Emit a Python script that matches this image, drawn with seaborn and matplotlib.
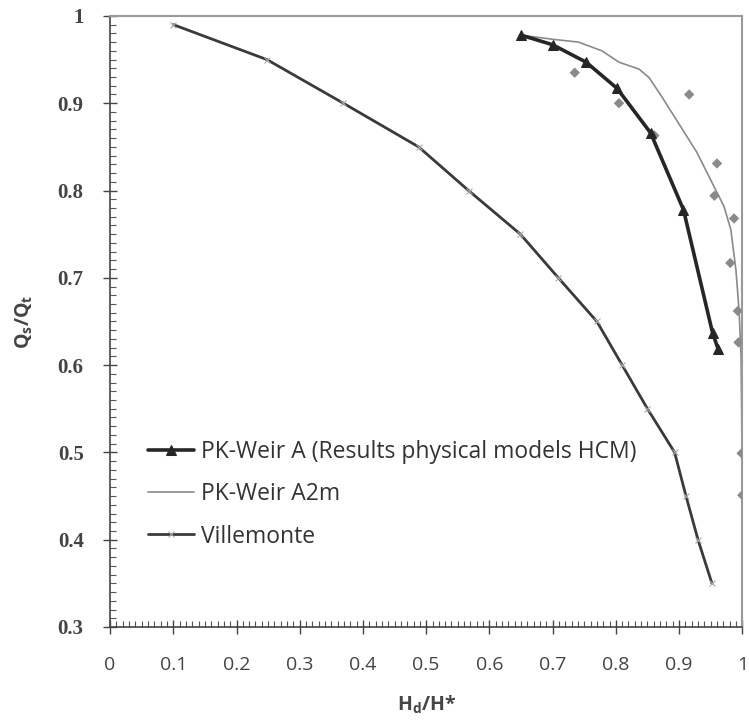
import numpy as np
import matplotlib
matplotlib.use('Agg')
import matplotlib.pyplot as plt
import seaborn as sns
from matplotlib.ticker import MultipleLocator

sns.set_style('white')
plt.rcParams['font.family'] = ['Open Sans', 'DejaVu Sans']
plt.rcParams['mathtext.default'] = 'regular'

# PK-Weir A (physical model results)
pk_a_x = [0.65, 0.70, 0.753, 0.802, 0.855, 0.907, 0.953, 0.962]
pk_a_y = [0.978, 0.967, 0.947, 0.917, 0.866, 0.778, 0.637, 0.618]

# PK-Weir A2m (thin curve)
a2m_x = [0.65, 0.703, 0.741, 0.778, 0.805, 0.837, 0.853, 0.874, 0.901, 0.928,
         0.955, 0.971, 0.982, 0.990, 0.995, 0.998, 0.999, 1.0]
a2m_y = [0.978, 0.973, 0.970, 0.960, 0.947, 0.939, 0.929, 0.906, 0.875, 0.844,
         0.805, 0.782, 0.755, 0.709, 0.662, 0.611, 0.55, 0.45]

# scattered diamond points
dia_x = [0.735, 0.805, 0.861, 0.916, 0.960, 0.956, 0.987, 0.981, 0.993, 0.994, 0.999, 1.0]
dia_y = [0.935, 0.900, 0.863, 0.910, 0.831, 0.794, 0.768, 0.717, 0.662, 0.626, 0.499, 0.451]

# Villemonte
vil_x = [0.10, 0.248, 0.369, 0.488, 0.567, 0.649, 0.709, 0.770, 0.810, 0.850,
         0.893, 0.911, 0.930, 0.952]
vil_y = [0.99, 0.95, 0.90, 0.85, 0.80, 0.75, 0.70, 0.65, 0.60, 0.55,
         0.50, 0.45, 0.40, 0.35]

x_ticklabels = ['0', '0.1', '0.2', '0.3', '0.4', '0.5', '0.6', '0.7', '0.8', '0.9', '1']
y_ticklabels = ['0.3', '0.4', '0.5', '0.6', '0.7', '0.8', '0.9', '1']

fig = plt.figure(figsize=(7.49, 7.24), dpi=100)
ax = fig.add_axes([0.147, 0.134, 0.844, 0.844])

sns.lineplot(x=a2m_x, y=a2m_y, sort=False, ax=ax, color='#8a8a8a', linewidth=1.2,
             label='PK-Weir A2m', zorder=2)
sns.scatterplot(x=dia_x, y=dia_y, ax=ax, marker='D', color='#8a8a8a', s=28,
                edgecolor='none', zorder=3)
sns.lineplot(x=vil_x, y=vil_y, sort=False, ax=ax, color='#3a3a3a', linewidth=2,
             marker='x', markersize=5, markeredgecolor='#aaaaaa', markeredgewidth=0.8,
             label='Villemonte', zorder=4)
sns.lineplot(x=pk_a_x, y=pk_a_y, sort=False, ax=ax, color='#262626', linewidth=2.6,
             marker='^', markersize=7, markeredgecolor='#262626',
             label='PK-Weir A (Results physical models HCM)', zorder=5)

ax.set_xlim(0, 1)
ax.set_ylim(0.3, 1)
ax.set_xticks(np.arange(0, 1.01, 0.1))
ax.set_xticklabels(x_ticklabels)
ax.set_yticks(np.arange(0.3, 1.01, 0.1))
ax.set_yticklabels(y_ticklabels)
ax.xaxis.set_minor_locator(MultipleLocator(0.01))
ax.yaxis.set_minor_locator(MultipleLocator(0.01))

ax.tick_params(axis='both', which='both', bottom=True, left=True)
ax.tick_params(axis='both', which='major', direction='inout', length=10, width=1,
               color='#444444', labelcolor='#444444')
ax.tick_params(axis='both', which='minor', direction='in', length=4, width=0.8,
               color='#555555')
ax.tick_params(axis='x', which='major', labelsize=14, pad=16)
ax.tick_params(axis='y', which='major', pad=14)
for lbl in ax.get_yticklabels():
    lbl.set_fontfamily('Liberation Serif')
    lbl.set_fontweight('bold')
    lbl.set_fontsize(15)

for side in ['left', 'bottom']:
    ax.spines[side].set_color('#444444')
    ax.spines[side].set_linewidth(1.2)
for side in ['top', 'right']:
    ax.spines[side].set_color('#999999')
    ax.spines[side].set_linewidth(1.5)

ax.set_xlabel('H$_d$/H*', fontsize=14, fontweight='bold', color='#444444', labelpad=14)
ax.set_ylabel('Q$_s$/Q$_t$', fontsize=14, fontweight='bold', color='#444444', labelpad=16)

handles, labels = ax.get_legend_handles_labels()
order = [labels.index('PK-Weir A (Results physical models HCM)'),
         labels.index('PK-Weir A2m'), labels.index('Villemonte')]
leg = ax.legend([handles[i] for i in order], [labels[i] for i in order],
                loc='upper left', bbox_to_anchor=(0.028, 0.34), frameon=False,
                fontsize=16.5, handlelength=2.0, handletextpad=0.3, labelspacing=0.8,
                labelcolor='#333333')

fig.savefig('out.png', dpi=100)
